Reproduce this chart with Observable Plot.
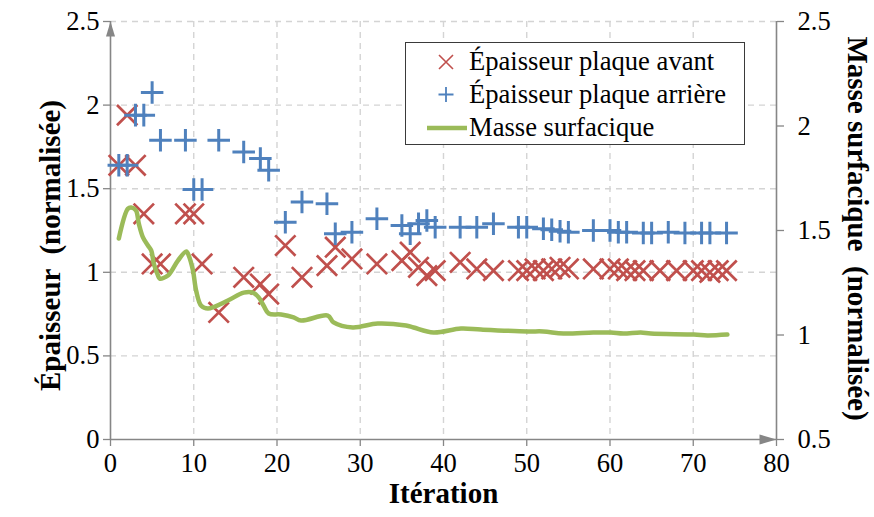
<!DOCTYPE html>
<html><head><meta charset="utf-8">
<script src="https://cdn.jsdelivr.net/npm/d3@7"></script>
<script src="https://cdn.jsdelivr.net/npm/@observablehq/plot@0.6"></script>
<style>
body{margin:0;background:#fff}
#chart{position:relative;width:874px;height:517px;font-family:'Liberation Serif','Tinos','Times New Roman','DejaVu Serif',serif}
#chart svg, #chart svg text{font-family:'Liberation Serif','Tinos','Times New Roman','DejaVu Serif',serif !important}
#legend{position:absolute;left:405px;top:42px;width:340px;height:103px;box-sizing:border-box;border:1.3px solid #3a3a3a;background:#fff;padding-top:2px}
#legend .row{height:33px;display:flex;align-items:center;font-size:26.6px;color:#000;white-space:nowrap}
#legend .sym{width:63px;height:33px;flex:none}
</style>
</head><body><div id="chart"></div>
<script>
// ---- data ----
const iterAvant = [1,2,3,4,5,6,9,10,11,13,16,18,19,21,23,26,27,29,32,35,36,37,38,39,42,44,46,49,50,51,52,53,54,55,58,60,61,62,63,64,66,68,70,71,72,73,74];
const avant     = [1.64,1.94,1.64,1.35,1.05,1.05,1.35,1.35,1.05,0.76,0.97,0.93,0.87,1.16,0.97,1.04,1.15,1.08,1.05,1.07,1.12,1.03,0.98,1.01,1.06,1.02,1.01,1.01,1.01,1.02,1.01,1.02,1.03,1.02,1.02,1.02,1.02,1.01,1.01,1.01,1.01,1.01,1.01,1.01,1.0,1.01,1.01];
const iterArriere = [1,2,3,4,5,6,9,10,11,13,16,18,19,21,23,26,27,29,32,35,36,37,38,39,42,44,46,49,50,52,53,54,55,58,60,61,62,64,65,67,69,71,72,74];
const arriere     = [1.64,1.64,1.94,1.94,2.075,1.79,1.79,1.495,1.495,1.79,1.72,1.68,1.61,1.30,1.42,1.41,1.23,1.24,1.32,1.28,1.23,1.29,1.31,1.27,1.27,1.27,1.29,1.27,1.27,1.26,1.255,1.245,1.24,1.25,1.25,1.24,1.24,1.235,1.235,1.24,1.235,1.235,1.235,1.235];
const iterMasse = [1,2.1,2.5,3.06,3.4,3.9,4.5,4.9,5.2,5.7,5.9,6.9,8.1,9.1,9.4,9.9,10.3,10.9,11.7,14.1,16.0,17.1,17.8,18.4,19.0,20.5,22.0,22.9,26.1,26.8,29.1,32.1,35.5,36.4,38.8,42.1,44.5,50.1,52.0,54.4,58.0,60.1,61.6,63.7,64.9,70.1,71.7,74.1];
const masse     = [1.462,1.605,1.61,1.596,1.533,1.467,1.428,1.404,1.342,1.285,1.27,1.285,1.356,1.40,1.38,1.31,1.21,1.14,1.127,1.165,1.203,1.203,1.18,1.14,1.103,1.098,1.084,1.069,1.093,1.06,1.036,1.055,1.045,1.036,1.012,1.031,1.026,1.017,1.017,1.007,1.012,1.012,1.007,1.012,1.007,1.002,0.998,1.002];
const xTicks  = [0,10,20,30,40,50,60,70,80];
const yTicks  = [0,0.5,1,1.5,2,2.5];
const y2Ticks = [0.5,1,1.5,2,2.5];
const xDomain = [0,80], yDomain = [0,2.5], y2Domain = [0.5,2.5];

const seriesNames = ["Épaisseur plaque avant","Épaisseur plaque arrière","Masse surfacique"];
const colors = ["#C0504D","#4F81BD","#9BBB59"];

// right axis value -> left axis units
const toLeft = m => (m - y2Domain[0]) * (yDomain[1]-yDomain[0]) / (y2Domain[1]-y2Domain[0]) + yDomain[0];
const fromLeft = v => (v - yDomain[0]) * (y2Domain[1]-y2Domain[0]) / (yDomain[1]-yDomain[0]) + y2Domain[0];

const avantData = iterAvant.map((x,i)=>({x, y: avant[i]}));
const arriereData = iterArriere.map((x,i)=>({x, y: arriere[i]}));
const masseData = iterMasse.map((x,i)=>({x, y: toLeft(masse[i])}));

const gray = "#868686";
const arrowUp = {draw(ctx){ ctx.moveTo(0,0); ctx.lineTo(-4.5,15); ctx.lineTo(4.5,15); ctx.closePath(); }};
const arrowRight = {draw(ctx){ ctx.moveTo(0,0); ctx.lineTo(-17,-5); ctx.lineTo(-17,5); ctx.closePath(); }};

const plot = Plot.plot({
  width: 874, height: 517,
  marginLeft: 110, marginRight: 98, marginTop: 21, marginBottom: 78,
  style: {fontSize: "26.6px", background: "#fff", color: "#000"},
  x: {domain: xDomain},
  y: {domain: yDomain},
  marks: [
    Plot.gridX(xTicks.filter(d => d > xDomain[0] && d < xDomain[1]), {stroke: "#d4d4d4", strokeOpacity: 1, strokeWidth: 1.4, strokeDasharray: "6,5"}),
    Plot.gridY(yTicks.filter(d => d > yDomain[0]), {stroke: "#d4d4d4", strokeOpacity: 1, strokeWidth: 1.4, strokeDasharray: "6,5"}),
    Plot.axisX(xTicks, {tickSize: 7, tickPadding: 7, stroke: gray, strokeWidth: 1.3, fill: "#000", label: null, tickFormat: d => String(d)}),
    Plot.axisY(yTicks, {anchor: "left", tickSize: 7, tickPadding: 4, stroke: gray, strokeWidth: 1.3, fill: "#000", label: null, tickFormat: d => String(d)}),
    Plot.axisY(y2Ticks.map(toLeft), {anchor: "right", tickSize: 7, tickPadding: 14, stroke: gray, strokeWidth: 1.3, fill: "#000", label: null, tickFormat: d => String(+fromLeft(d).toFixed(2))}),
    Plot.ruleX([xDomain[0]], {stroke: gray, strokeWidth: 1.6}),
    Plot.ruleX([xDomain[1]], {stroke: gray, strokeWidth: 1.6}),
    Plot.ruleY([yDomain[0]], {stroke: gray, strokeWidth: 1.6}),
    Plot.dot([xDomain[0]], {x: d => d, y: () => yDomain[1], symbol: arrowUp, fill: gray, stroke: null, r: 5}),
    Plot.dot([xDomain[1]], {x: d => d, y: () => yDomain[0], symbol: arrowRight, fill: gray, stroke: null, r: 5}),
    Plot.dot(avantData, {x: "x", y: "y", symbol: "times", stroke: colors[0], strokeWidth: 2.7, r: 9.3}),
    Plot.dot(arriereData, {x: "x", y: "y", symbol: "plus", stroke: colors[1], strokeWidth: 3, r: 7.3}),
    Plot.line(masseData, {x: "x", y: "y", stroke: colors[2], strokeWidth: 4.5, curve: "catmull-rom"}),
    Plot.text(["Itération"], {frameAnchor: "bottom", dy: 63, text: d => d, fontWeight: "bold", fontSize: 29, fill: "#000"}),
    Plot.text(["Épaisseur  (normalisée)"], {frameAnchor: "left", textAnchor: "middle", dx: -60, dy: 15, rotate: -90, text: d => d, fontWeight: "bold", fontSize: 29, fill: "#000"}),
    Plot.text(["Masse surfacique  (normalisée)"], {frameAnchor: "right", textAnchor: "middle", dx: 81, dy: -2, rotate: 90, text: d => d, fontWeight: "bold", fontSize: 29, fill: "#000"})
  ]
});
const chart = document.getElementById("chart");
chart.appendChild(plot);

// legend
const legend = document.createElement("div");
legend.id = "legend";
const symbols = [
  `<path d="M33,20 L47,34 M47,20 L33,34" stroke="${colors[0]}" stroke-width="1.6" fill="none"/>`,
  `<path d="M40,19 L40,34 M32.5,26.5 L47.5,26.5" stroke="${colors[1]}" stroke-width="1.8" fill="none"/>`,
  `<path d="M21,27 L61,27" stroke="${colors[2]}" stroke-width="4.5" fill="none"/>`
];
seriesNames.forEach((name, i) => {
  const row = document.createElement("div");
  row.className = "row";
  row.innerHTML = `<svg class="sym" viewBox="0 10 63 33">${symbols[i]}</svg><span>${name}</span>`;
  legend.appendChild(row);
});
chart.appendChild(legend);
</script>
</body></html>
